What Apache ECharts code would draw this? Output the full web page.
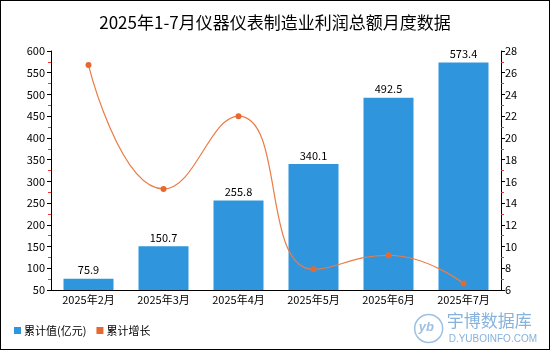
<!DOCTYPE html>
<html>
<head>
<meta charset="utf-8">
<script src="https://cdn.jsdelivr.net/npm/echarts@6/dist/echarts.min.js"></script>
<style>
  html, body { margin: 0; padding: 0; background: #fff; }
  #chart { width: 548px; height: 348px; border: 1px solid #000; }
</style>
</head>
<body>
<div id="chart"></div>
<script>
// Monthly cumulative profit of instrument manufacturing, Jan–Jul 2025
const categories = ['2025年2月', '2025年3月', '2025年4月', '2025年5月', '2025年6月', '2025年7月'];
const cumulativeValue = [75.9, 150.7, 255.8, 340.1, 492.5, 573.4];   // 亿元
const cumulativeGrowth = [26.7, 15.3, 22.0, 7.9, 9.2, 6.6];          // %

const chart = echarts.init(document.getElementById('chart'));
const font = '"Noto Sans CJK SC", "Noto Sans", sans-serif';

chart.setOption({
  animation: false,
  title: {
    text: '2025年1-7月仪器仪表制造业利润总额月度数据',
    left: 'center',
    top: 8,
    textStyle: { fontSize: 17, fontWeight: 'normal', color: '#000', fontFamily: font }
  },
  legend: {
    left: 8,
    bottom: 8,
    itemWidth: 7,
    itemHeight: 7,
    itemGap: 10,
    icon: 'rect',
    textStyle: { fontSize: 11, color: '#000', fontFamily: font, padding: [0, 0, 0, -2] },
    data: ['累计值(亿元)', '累计增长']
  },
  grid: { left: 50, right: 48, top: 50, bottom: 59, containLabel: false },
  xAxis: {
    type: 'category',
    data: categories,
    axisLine: { lineStyle: { color: '#000' } },
    axisTick: { show: false },
    axisLabel: { color: '#000', fontSize: 11, fontFamily: font, margin: 4 }
  },
  yAxis: [
    {
      type: 'value', min: 50, max: 600, interval: 50,
      axisLine: { show: true, lineStyle: { color: '#000' } },
      axisTick: { show: true, length: 4, lineStyle: { color: '#000' } },
      minorTick: { show: true, splitNumber: 2, length: 3, lineStyle: { color: '#e33' } },
      splitLine: { show: false },
      axisLabel: { color: '#000', fontSize: 11, fontFamily: font, margin: 6 }
    },
    {
      type: 'value', min: 6, max: 28, interval: 2,
      axisLine: { show: true, lineStyle: { color: '#000' } },
      axisTick: { show: true, length: 4, lineStyle: { color: '#000' } },
      minorTick: { show: true, splitNumber: 2, length: 3, lineStyle: { color: '#e33' } },
      splitLine: { show: false },
      axisLabel: { color: '#000', fontSize: 11, fontFamily: font, margin: 4 }
    }
  ],
  series: [
    {
      name: '累计值(亿元)',
      type: 'bar',
      data: cumulativeValue,
      barWidth: 50,
      itemStyle: { color: '#2f96dd' },
      label: { show: true, position: 'top', color: '#000', fontSize: 11, fontFamily: font, distance: 3 }
    },
    {
      name: '累计增长',
      type: 'line',
      yAxisIndex: 1,
      data: cumulativeGrowth,
      smooth: true,
      symbol: 'circle',
      symbolSize: 6,
      itemStyle: { color: '#e8692f' },
      lineStyle: { color: '#ec7b45', width: 1.2 }
    }
  ],
  graphic: [
    {
      type: 'group', right: 12, bottom: 4,
      children: [
        { type: 'circle', shape: { cx: 16, cy: 16, r: 14 }, style: { fill: 'none', stroke: '#9dc0e2', lineWidth: 1.5 } },
        { type: 'text', x: 6, y: 8, style: { text: 'yb', fill: '#9dc0e2', font: 'italic bold 13px sans-serif' } },
        { type: 'text', x: 34, y: 0, style: { text: '宇博数据库', fill: '#86b2dc', font: '17px "Noto Sans CJK SC"' } },
        { type: 'text', x: 36, y: 22, style: { text: 'D.YUBOINFO.COM', fill: '#86b2dc', font: '10px "Liberation Sans"' } }
      ]
    }
  ]
});
</script>
</body>
</html>
